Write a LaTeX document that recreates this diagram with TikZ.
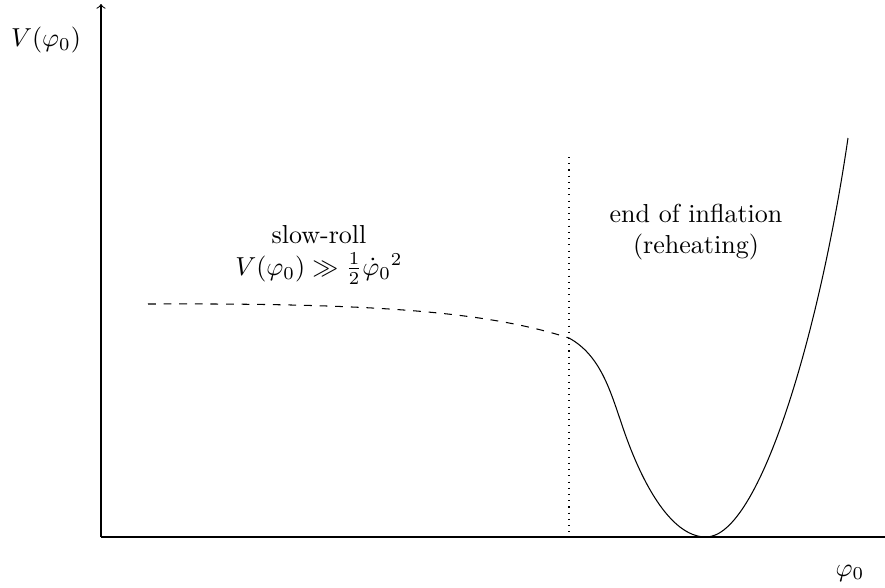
\documentclass[tikz,border=0pt]{standalone}
\usepackage{amsmath,amssymb}
\begin{document}
\begin{tikzpicture}[x=0.3846pt,y=-0.3846pt,
  axis/.style={line width=0.4pt},
  lbl/.style={inner sep=0pt,align=center}]
\useasboundingbox (0,0) rectangle (885,587);
\coordinate (O) at (101,537);
\coordinate (Ytop) at (101,4);
\coordinate (Xend) at (885,537);
\draw[axis,->] (O) -- (Ytop);
\draw[axis] (O) -- (Xend);
\node[lbl] (vlab) at (46,40) {$V(\varphi_0)$};
\node[lbl] (xlab) at (850,573) {$\varphi_0$};
\coordinate (dtop) at (569,157);
\coordinate (dbot) at (569,537);
\draw[dotted] (dtop) -- (dbot);
\coordinate (s) at (148,304);
\coordinate (e) at (569,338);
\draw[dashed] (s) .. controls (370,303) and (485,311) .. (e);
\draw (e) .. controls (600,355) and (610,390) .. (621,422)
  .. controls (640,480) and (670,537) .. (706,537)
  .. controls (760,537) and (820,330) .. (848,138);
\node[lbl] (sr) at (319,255) {slow-roll\\[0pt] $V(\varphi_0) \gg \frac{1}{2}\dot{\varphi}_0{}^2$};
\node[lbl] (ei) at (696,232) {end of inflation\\(reheating)};
\end{tikzpicture}
\end{document}
